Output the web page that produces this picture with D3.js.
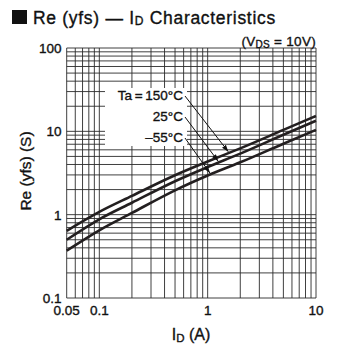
<!DOCTYPE html>
<meta charset="utf-8">
<style>
body { margin: 0; background: #fff; }
svg { font-family: "Liberation Sans", Arial, sans-serif; }
svg text { fill: #111; stroke: #111; stroke-width: 0.35; }
.grid line { stroke: #2a2a2a; stroke-width: 0.9; }
.curves path { fill: none; stroke: #231f20; stroke-width: 2.6; }
.arrows line { stroke: #111; stroke-width: 1; }
</style>
<svg width="338" height="348"></svg>
<script src="https://d3js.org/d3.v7.min.js"></script>
<script>

// drain current (A)
var idValues = [0.05, 0.1, 0.2, 0.5, 1, 2, 5, 10];
// forward transfer admittance (S) per temperature
var yfs150 = [0.64, 1.08, 1.68, 2.97, 4.34, 6.25, 10.4, 15.3];
var yfs25 = [0.50, 0.88, 1.39, 2.52, 3.73, 5.40, 9.10, 13.4];
var yfsM55 = [0.37, 0.65, 1.05, 1.96, 2.95, 4.25, 7.10, 10.4];

var seriesLabels = ["Ta\u2009=\u2009150°C", "25°C", "–55°C"];
var arrowAt = [1.55, 1.25, 1.05];   // I_D where each arrow points

var xTickLabels = [0.05, 0.1, 1, 10];
var yTickLabels = [0.1, 1, 10, 100];

var svg = d3.select("svg");

var x = d3.scaleLog().domain([0.05, 10]).range([66.7, 316]);
var y = d3.scaleLog().domain([0.1, 100]).range([298, 48]);

// grid
var grid = svg.append("g").attr("class", "grid");
grid.selectAll("line.v")
  .data(x.ticks())
  .enter().append("line")
    .attr("class", "v")
    .attr("x1", d => x(d)).attr("x2", d => x(d))
    .attr("y1", y(100)).attr("y2", y(0.1));
grid.selectAll("line.h")
  .data(y.ticks())
  .enter().append("line")
    .attr("class", "h")
    .attr("x1", x(0.05)).attr("x2", x(10))
    .attr("y1", d => y(d)).attr("y2", d => y(d));

// white patch behind the legend text
svg.append("rect")
  .attr("x", 105).attr("y", 88)
  .attr("width", 82).attr("height", 58)
  .attr("fill", "#fff");

// tick labels
svg.append("g")
  .attr("font-size", 13.5).attr("text-anchor", "middle")
  .selectAll("text")
  .data(xTickLabels)
  .enter().append("text")
    .attr("x", d => x(d)).attr("y", 315)
    .text(d => d);

svg.append("g")
  .attr("font-size", 13.5).attr("text-anchor", "end")
  .selectAll("text")
  .data(yTickLabels)
  .enter().append("text")
    .attr("x", 61.5).attr("y", d => y(d) + 5)
    .text(d => d);

// curves
var allSeries = [yfs150, yfs25, yfsM55];
var line = d3.line()
  .x((d, i) => x(idValues[i]))
  .y(d => y(d))
  .curve(d3.curveMonotoneX);

svg.append("g").attr("class", "curves")
  .selectAll("path")
  .data(allSeries)
  .enter().append("path")
    .attr("d", line);

// interpolate in log-log space
function valueAt(series, xv) {
  var lx = Math.log10(xv);
  for (var i = 0; i < idValues.length - 1; i++) {
    var a = Math.log10(idValues[i]), b = Math.log10(idValues[i + 1]);
    if (lx >= a && lx <= b) {
      var t = (lx - a) / (b - a);
      return Math.pow(10, Math.log10(series[i]) * (1 - t) + Math.log10(series[i + 1]) * t);
    }
  }
  return series[series.length - 1];
}

// legend labels and arrows
svg.append("defs").append("marker")
  .attr("id", "ah")
  .attr("viewBox", "0 0 10 10")
  .attr("refX", 10).attr("refY", 5)
  .attr("markerWidth", 7).attr("markerHeight", 7)
  .attr("markerUnits", "userSpaceOnUse")
  .attr("orient", "auto")
  .append("path").attr("d", "M0,1.5 L10,5 L0,8.5 Z").attr("fill", "#111");

var labelY = [100, 121, 142];
svg.append("g")
  .attr("font-size", 13.5).attr("text-anchor", "end")
  .selectAll("text")
  .data(seriesLabels)
  .enter().append("text")
    .attr("x", 183).attr("y", (d, i) => labelY[i])
    .text(d => d);

svg.append("g").attr("class", "arrows")
  .selectAll("line")
  .data(allSeries)
  .enter().append("line")
    .attr("x1", 185).attr("y1", (d, i) => labelY[i] - 4)
    .attr("x2", (d, i) => x(arrowAt[i]))
    .attr("y2", (d, i) => y(valueAt(d, arrowAt[i])) - 1.5)
    .attr("marker-end", "url(#ah)");

// titles
svg.append("rect").attr("x", 12).attr("y", 10).attr("width", 15).attr("height", 14).attr("fill", "#111");
var title = svg.append("text").attr("x", 33).attr("y", 23.5)
  .attr("font-size", 17.5).attr("letter-spacing", 0.7);
title.append("tspan").text("Re (yfs) \u2014 I");
title.append("tspan").attr("font-size", 12).attr("dy", 1.5).text("D");
title.append("tspan").attr("dy", -1.5).text(" Characteristics");

var cond = svg.append("text").attr("x", 316).attr("y", 46)
  .attr("font-size", 13.5).attr("text-anchor", "end").attr("letter-spacing", 0.3);
cond.append("tspan").text("(V");
cond.append("tspan").attr("font-size", 10).attr("dy", 1.5).text("DS");
cond.append("tspan").attr("dy", -1.5).text(" = 10V)");

svg.append("text")
  .attr("transform", "translate(31,171) rotate(-90)")
  .attr("text-anchor", "middle").attr("font-size", 15.5)
  .text("Re (yfs)  (S)");

var xt = svg.append("text").attr("x", 191).attr("y", 340)
  .attr("text-anchor", "middle").attr("font-size", 16);
xt.append("tspan").text("I");
xt.append("tspan").attr("font-size", 11.5).attr("dy", 1.5).text("D");
xt.append("tspan").attr("dy", -1.5).text("  (A)");

</script>
